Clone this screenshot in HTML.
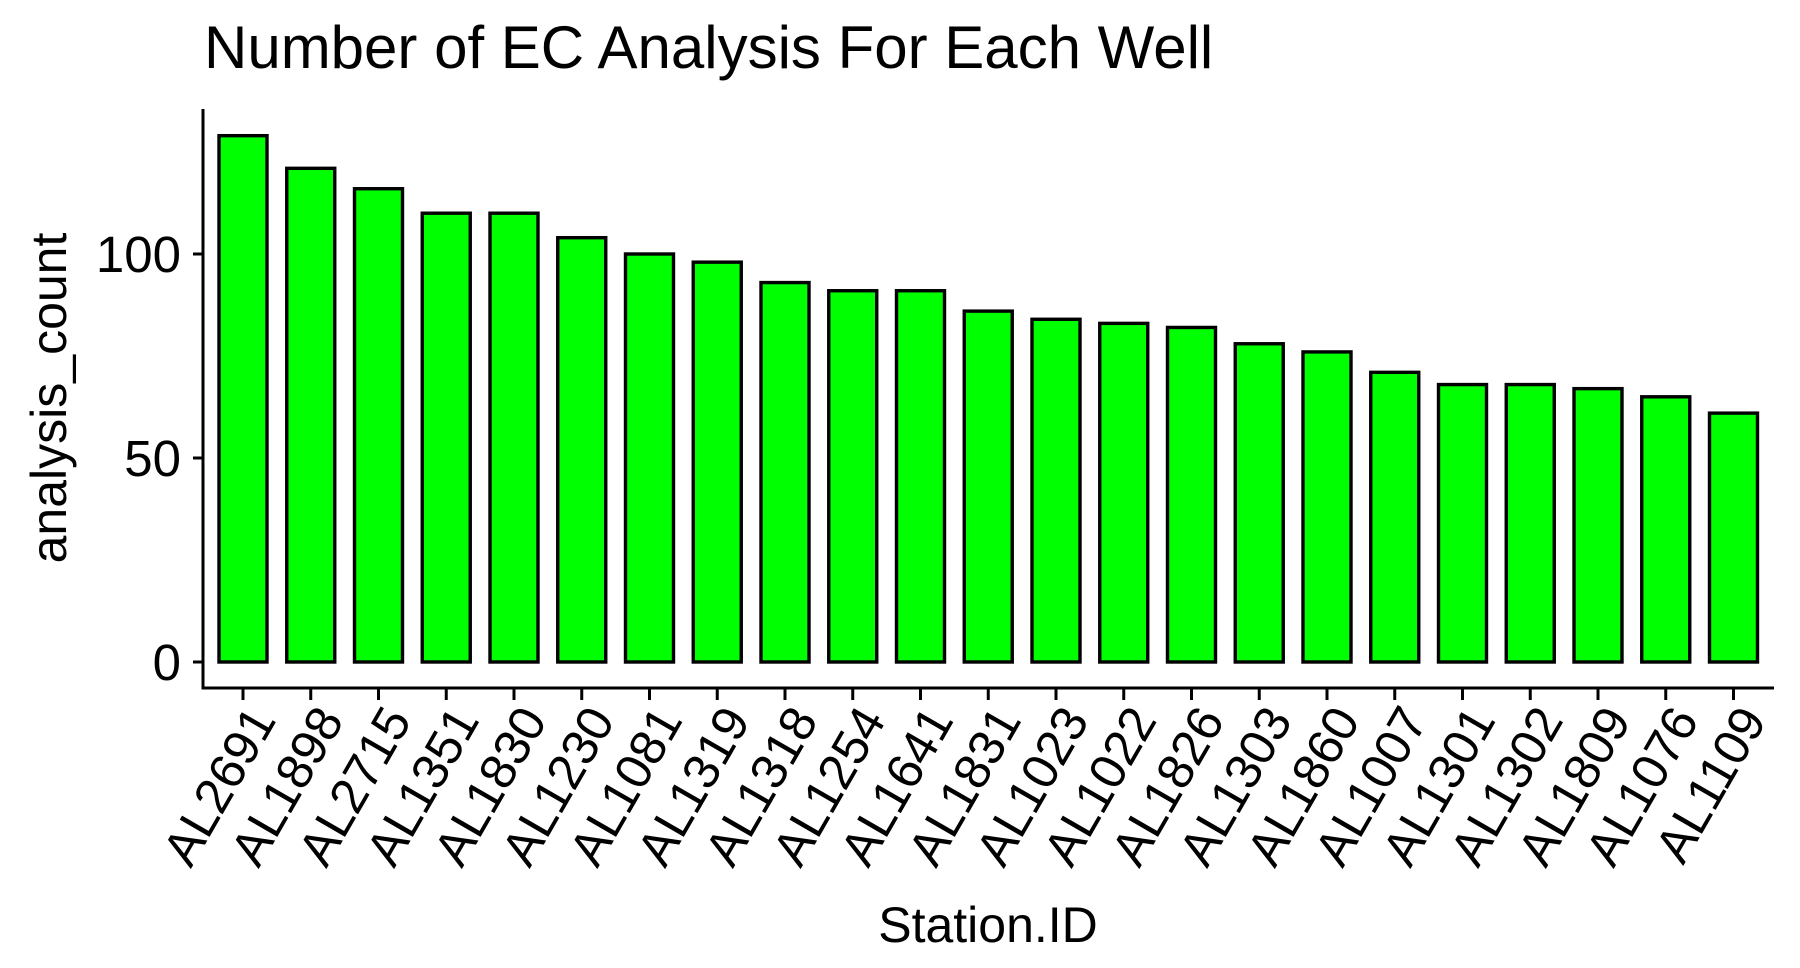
<!DOCTYPE html>
<html><head><meta charset="utf-8"><style>
html,body{margin:0;padding:0;background:#fff;}
svg{display:block;font-family:"Liberation Sans",Arial,sans-serif;}
</style></head><body>
<svg id="chart" width="1800" height="968" viewBox="0 0 1800 968">
<text x="204" y="68" font-size="60" fill="#000">Number of EC Analysis For Each Well</text>
<g id="bars"></g>
<g id="axes"></g>
<text x="988" y="942" font-size="50" text-anchor="middle" fill="#000">Station.ID</text>
<text transform="translate(66,398) rotate(-90)" font-size="50" text-anchor="middle" fill="#000">analysis_count</text>
</svg>
<script>
const categories = ["AL2691","AL1898","AL2715","AL1351","AL1830","AL1230","AL1081","AL1319","AL1318","AL1254","AL1641","AL1831","AL1023","AL1022","AL1826","AL1303","AL1860","AL1007","AL1301","AL1302","AL1809","AL1076","AL1109"];
const counts = [129,121,116,110,110,104,100,98,93,91,91,86,84,83,82,78,76,71,68,68,67,65,61];
const yTicks = [0,50,100];

const NS = "http://www.w3.org/2000/svg";
const axisX = 203, axisBottom = 688, axisTop = 109, axisRight = 1774;
const y0 = 662, pxPerUnit = 4.08;
const firstX = 243, step = 67.75, barW = 48;
function yScale(v){ return y0 - v * pxPerUnit; }
function xScale(i){ return firstX + i * step; }
function mk(tag, attrs){ const e = document.createElementNS(NS, tag); for (const k in attrs) e.setAttribute(k, attrs[k]); return e; }

const bars = document.getElementById('bars');
counts.forEach((v, i) => {
  const r = mk('rect', {x: xScale(i) - barW/2, y: yScale(v), width: barW, height: yScale(0) - yScale(v), fill: '#00ff00', stroke: '#000', 'stroke-width': 3.4});
  
  
  bars.appendChild(r);
});

const axes = document.getElementById('axes');
const yl = mk('line', {x1: axisX, y1: axisTop, x2: axisX, y2: axisBottom + 1.5, stroke: '#000', 'stroke-width': 3});


axes.appendChild(yl);
const xl = mk('line', {x1: axisX - 1.5, y1: axisBottom, x2: axisRight, y2: axisBottom, stroke: '#000', 'stroke-width': 3});


axes.appendChild(xl);

yTicks.forEach(t => {
  const ln = mk('line', {x1: axisX - 10, y1: yScale(t), x2: axisX, y2: yScale(t), stroke: '#000', 'stroke-width': 3});
  
  
  axes.appendChild(ln);
  const tx = mk('text', {x: axisX - 22, y: yScale(t) + 18, 'font-size': 51, 'text-anchor': 'end', fill: '#000'});
  tx.textContent = t;
  
  
  axes.appendChild(tx);
});

categories.forEach((c, i) => {
  const x = xScale(i);
  const ln = mk('line', {x1: x, y1: axisBottom, x2: x, y2: axisBottom + 12, stroke: '#000', 'stroke-width': 3});
  
  
  axes.appendChild(ln);
  const tx = mk('text', {transform: 'translate(' + (x + 34) + ',' + 720 + ') rotate(-60)', 'font-size': 50, 'text-anchor': 'end', fill: '#000'});
  tx.textContent = c;
  
  
  axes.appendChild(tx);
});
</script>
</body></html>
